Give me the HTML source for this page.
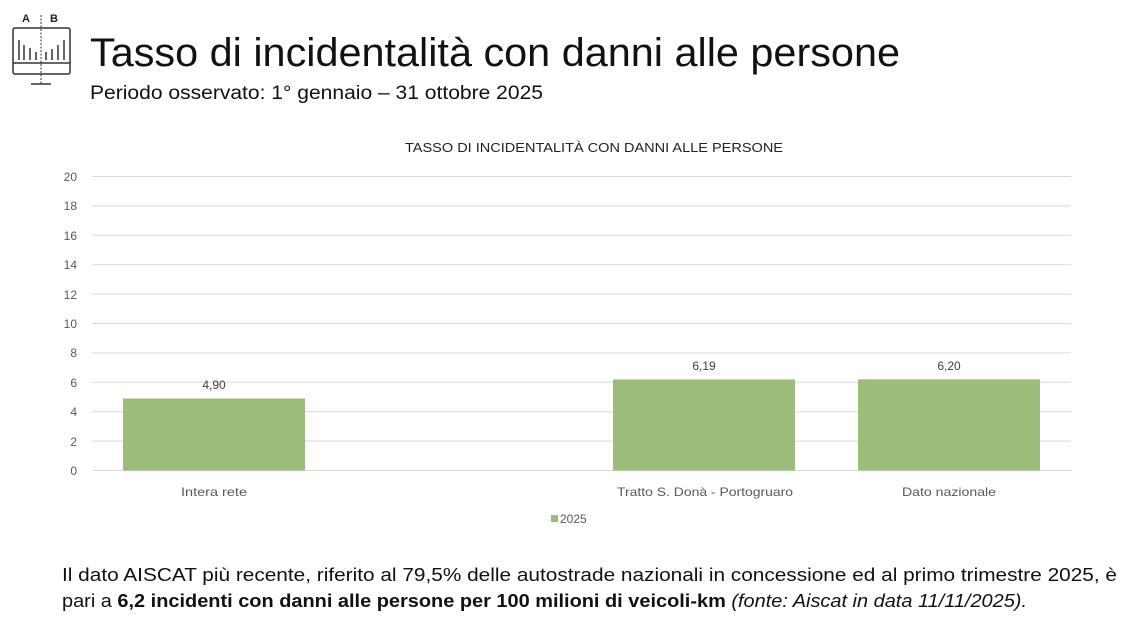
<!DOCTYPE html>
<html><head><meta charset="utf-8"><style>
body{margin:0;width:1133px;height:635px;background:#fff;overflow:hidden;font-family:"Liberation Sans",sans-serif}
</style></head><body>
<svg width="1133" height="635" xmlns="http://www.w3.org/2000/svg" font-family="Liberation Sans, sans-serif">
<g stroke="#333" fill="none" stroke-width="1.5">
<rect x="13" y="28" width="57" height="46" rx="2"/>
<line x1="13" y1="63" x2="70" y2="63"/>
<line x1="41" y1="15" x2="41" y2="84" stroke-dasharray="2,1.5" stroke-width="1"/>
<line x1="31" y1="84" x2="51" y2="84"/>
<line x1="19" y1="40" x2="19" y2="60"/><line x1="24" y1="45" x2="24" y2="60"/><line x1="30" y1="48" x2="30" y2="60"/><line x1="36" y1="52" x2="36" y2="60"/>
<line x1="46" y1="52" x2="46" y2="60"/><line x1="52" y1="49" x2="52" y2="60"/><line x1="58" y1="45" x2="58" y2="60"/><line x1="64" y1="40" x2="64" y2="60"/>
</g>
<text x="22" y="22" font-size="11" font-weight="bold" fill="#222">A</text>
<text x="50" y="22" font-size="11" font-weight="bold" fill="#222">B</text>
<text x="90" y="66" font-size="40" fill="#111" textLength="810" lengthAdjust="spacingAndGlyphs">Tasso di incidentalità con danni alle persone</text>
<text x="90" y="99" font-size="19" fill="#111" textLength="453" lengthAdjust="spacingAndGlyphs">Periodo osservato: 1° gennaio – 31 ottobre 2025</text>
<text x="405" y="152" font-size="13" fill="#222" textLength="378" lengthAdjust="spacingAndGlyphs">TASSO DI INCIDENTALITÀ CON DANNI ALLE PERSONE</text>
<g stroke="#d9d9d9" stroke-width="1">
<line x1="92" y1="176.5" x2="1071" y2="176.5"/><line x1="92" y1="205.9" x2="1071" y2="205.9"/>
<line x1="92" y1="235.3" x2="1071" y2="235.3"/><line x1="92" y1="264.7" x2="1071" y2="264.7"/>
<line x1="92" y1="294.1" x2="1071" y2="294.1"/><line x1="92" y1="323.5" x2="1071" y2="323.5"/>
<line x1="92" y1="352.9" x2="1071" y2="352.9"/><line x1="92" y1="382.3" x2="1071" y2="382.3"/>
<line x1="92" y1="411.7" x2="1071" y2="411.7"/><line x1="92" y1="441.1" x2="1071" y2="441.1"/>
<line x1="92" y1="470.5" x2="1071" y2="470.5"/>
</g>
<g font-size="12" fill="#595959" text-anchor="end">
<text x="77" y="181">20</text><text x="77" y="210">18</text><text x="77" y="240">16</text><text x="77" y="269">14</text>
<text x="77" y="299">12</text><text x="77" y="328">10</text><text x="77" y="357">8</text><text x="77" y="387">6</text>
<text x="77" y="416">4</text><text x="77" y="446">2</text><text x="77" y="475">0</text>
</g>
<g fill="#9bbd7c">
<rect x="123" y="398.5" width="182" height="72"/>
<rect x="613" y="379.5" width="182" height="91"/>
<rect x="858" y="379.3" width="182" height="91.2"/>
</g>
<g font-size="12" fill="#404040" text-anchor="middle">
<text x="214" y="389">4,90</text><text x="704" y="370">6,19</text><text x="949" y="370">6,20</text>
</g>
<g font-size="12" fill="#595959">
<text x="181" y="496" textLength="66" lengthAdjust="spacingAndGlyphs">Intera rete</text>
<text x="617" y="496" textLength="176" lengthAdjust="spacingAndGlyphs">Tratto S. Donà - Portogruaro</text>
<text x="902" y="496" textLength="94" lengthAdjust="spacingAndGlyphs">Dato nazionale</text>
</g>
<rect x="551" y="515" width="7" height="7" fill="#9bbd7c"/>
<text x="560" y="523" font-size="12" fill="#595959">2025</text>
<text x="62" y="581" font-size="18" fill="#111" textLength="1055" lengthAdjust="spacingAndGlyphs">Il dato AISCAT più recente, riferito al 79,5% delle autostrade nazionali in concessione ed al primo trimestre 2025, è</text>
<text x="62" y="607" font-size="18" fill="#111" textLength="965" lengthAdjust="spacingAndGlyphs">pari a <tspan font-weight="bold">6,2 incidenti con danni alle persone per 100 milioni di veicoli-km</tspan> <tspan font-style="italic">(fonte: Aiscat in data 11/11/2025).</tspan></text>
</svg>
</body></html>
